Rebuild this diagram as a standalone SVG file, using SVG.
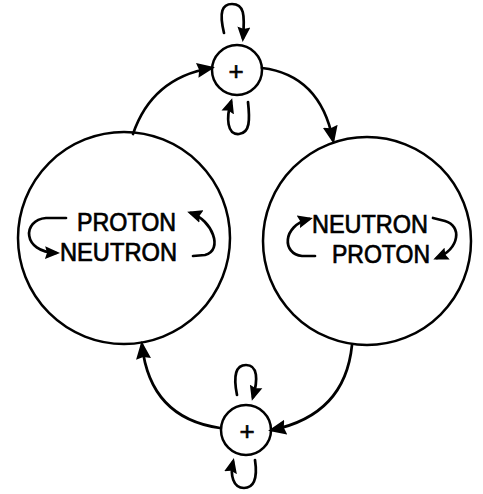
<svg xmlns="http://www.w3.org/2000/svg" width="483" height="494" viewBox="0 0 483 494">
<defs>
<marker id="ah" markerUnits="userSpaceOnUse" markerWidth="19" markerHeight="16" refX="14" refY="7.5" orient="auto" viewBox="0 0 19 15">
<path d="M0,0 L18,7.5 L0,15 L2,7.5 Z" fill="#000"/>
</marker>
<marker id="sh" markerUnits="userSpaceOnUse" markerWidth="16" markerHeight="14" refX="11" refY="6.5" orient="auto" viewBox="0 0 16 13">
<path d="M0,0 L15,6.5 L0,13 L2,6.5 Z" fill="#000"/>
</marker>
<style>
.c{fill:none;stroke:#000;stroke-width:2.5}
.l{fill:none;stroke:#000;stroke-width:2.7;stroke-linecap:round}
.t{font-family:"Liberation Sans",Arial,sans-serif;font-size:25px;fill:#000;stroke:#000;stroke-width:0.7}
.p{font-family:"Liberation Sans",Arial,sans-serif;font-size:26px;fill:#000;stroke:#000;stroke-width:0.6;text-anchor:middle}
</style>
</defs>
<rect width="483" height="494" fill="#fff"/>
<g id="connectors">
<path class="l" d="M133,134 Q152,78 211,68" marker-end="url(#ah)"/>
<path class="l" d="M262,68 Q320,75 333,140" marker-end="url(#ah)"/>
<path class="l" d="M352,345 Q345,415 272,430" marker-end="url(#ah)"/>
<path class="l" d="M220,428 Q150,418 142,345" marker-end="url(#ah)"/>
<path class="l" d="M224,33 C219,12 222,4 232,4 C244,4 245,14 243,38" marker-end="url(#sh)"/>
<path class="l" d="M248,102 C250,120 250,133 239,134 C227,135 226,118 231,102" marker-end="url(#sh)"/>
<path class="l" d="M237,395 C233,375 236,365 246,365 C258,365 258,380 253,397" marker-end="url(#sh)"/>
<path class="l" d="M255,460 C258,480 253,488 244,488 C233,488 230,475 233,462" marker-end="url(#sh)"/>
</g>
<g id="left">
<circle class="c" cx="124" cy="238" r="106"/>
<text class="t" x="77" y="231" textLength="99" lengthAdjust="spacingAndGlyphs">PROTON</text>
<text class="t" x="60" y="261" textLength="117" lengthAdjust="spacingAndGlyphs">NEUTRON</text>
<path class="l" d="M66,218 L46,218 C22,220 22,252 56,253" marker-end="url(#sh)"/>
<path class="l" d="M193,256 L205,255 C224,250 212,220 191,213" marker-end="url(#sh)"/>
</g>
<g id="right">
<circle class="c" cx="367" cy="241" r="104"/>
<text class="t" x="312" y="233" textLength="116" lengthAdjust="spacingAndGlyphs">NEUTRON</text>
<text class="t" x="332" y="263" textLength="98" lengthAdjust="spacingAndGlyphs">PROTON</text>
<path class="l" d="M315,256 L302,256 C282,254 282,226 309,219" marker-end="url(#sh)"/>
<path class="l" d="M433,218 L445,221 C462,226 460,248 437,258" marker-end="url(#sh)"/>
</g>
<g id="top">
<circle class="c" cx="237" cy="70" r="25"/>
<text class="p" x="236" y="80">+</text>
</g>
<g id="bottom">
<circle class="c" cx="246" cy="430" r="25"/>
<text class="p" x="247" y="440">+</text>
</g>
</svg>
